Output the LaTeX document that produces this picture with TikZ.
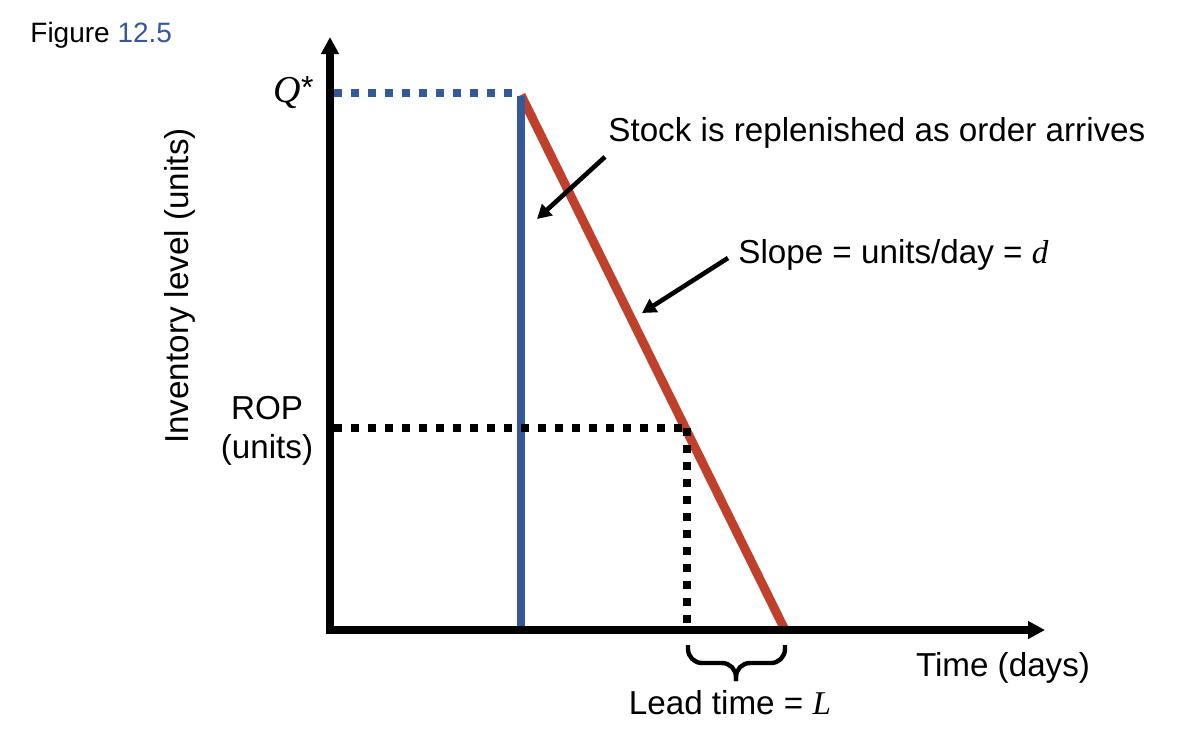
\documentclass[tikz,border=0pt]{standalone}
\usepackage{fontspec}
\setmainfont{Liberation Sans}
\newfontfamily\serifit{Liberation Serif}
\usetikzlibrary{arrows.meta}
\definecolor{ablue}{HTML}{34589A}
\definecolor{ared}{HTML}{C0412B}
\begin{document}
\begin{tikzpicture}[x=0.5pt,y=-0.5pt,
  axis/.style={line width=3.8pt,line join=miter},
  dotline/.style={line width=4pt,dash pattern=on 4pt off 4.5pt},
  callout/.style={line width=2.3pt,-{Triangle[length=7pt,width=7.5pt]}},
  lbl/.style={font=\fontsize{16.6}{19.5}\selectfont,inner sep=0pt}]
\useasboundingbox (0,0) rectangle (1194,730);
% key points
\coordinate (O) at (330,630);
\coordinate (ytop) at (330,37);
\coordinate (xend) at (1045,630);
\coordinate (peak) at (521,95);
\coordinate (zero) at (785,630);
\coordinate (bluetop) at (521,96);
\coordinate (bluebot) at (521,630);
\coordinate (qs) at (334,93);
\coordinate (qe) at (516,93);
\coordinate (rs) at (334,428);
\coordinate (rc) at (687,428);
\coordinate (rb) at (687,628);
% red demand line
\draw[ared,line width=4.5pt] (peak) -- (zero);
% blue replenishment
\draw[ablue,line width=3.8pt] (bluetop) -- (bluebot);
\draw[ablue,dotline] (qs) -- (qe);
% ROP dotted
\draw[black,dotline] (rs) -- (rc);
\draw[black,dotline] (rc) -- (rb);
% axes
\draw[axis,{Triangle[length=8.5pt,width=8.5pt]}-{Triangle[length=8.5pt,width=8.5pt]}] (ytop) -- (O) -- (xend);
% brace
\coordinate (bl) at (688,645);
\coordinate (br) at (785,645);
\coordinate (bm) at (736,663);
\coordinate (bt) at (736,681);
\draw[line width=2.2pt,rounded corners=7pt] (bl) -- (688,663) -- (bm) -- (bt);
\draw[line width=2.2pt,rounded corners=7pt] (br) -- (785,663) -- (bm) -- (bt);
% labels
\node[font=\fontsize{14}{16}\selectfont,anchor=west,inner sep=0pt] (fig) at (30,35) {Figure \textcolor{ablue}{12.5}};
\node[anchor=east,inner sep=0pt] (qstar) at (314,93) {{\fontsize{19}{21}\selectfont\serifit\textit{Q}}{\fontsize{16}{19}\selectfont\raisebox{2pt}{*}}};
\node[lbl,align=center] (rop) at (267,431) {ROP\\(units)};
\node[lbl,rotate=90] (ylab) at (180,286) {Inventory level (units)};
\node[lbl,anchor=west] (stock) at (608,133) {Stock is replenished as order arrives};
\node[lbl,anchor=west] (slope) at (738,255) {Slope = units/day = {\serifit\textit{d}}};
\node[lbl] (time) at (1003,668) {Time (days)};
\node[lbl] (lead) at (730,703) {Lead time = {\serifit\textit{L}}};
% callouts
\coordinate (sa) at (537,219);
\coordinate (sb) at (642,313);
\draw[callout] (stock.south west) ++(-3,8) -- (sa);
\draw[callout] (slope.west) ++(-10,3) -- (sb);
\end{tikzpicture}
\end{document}
